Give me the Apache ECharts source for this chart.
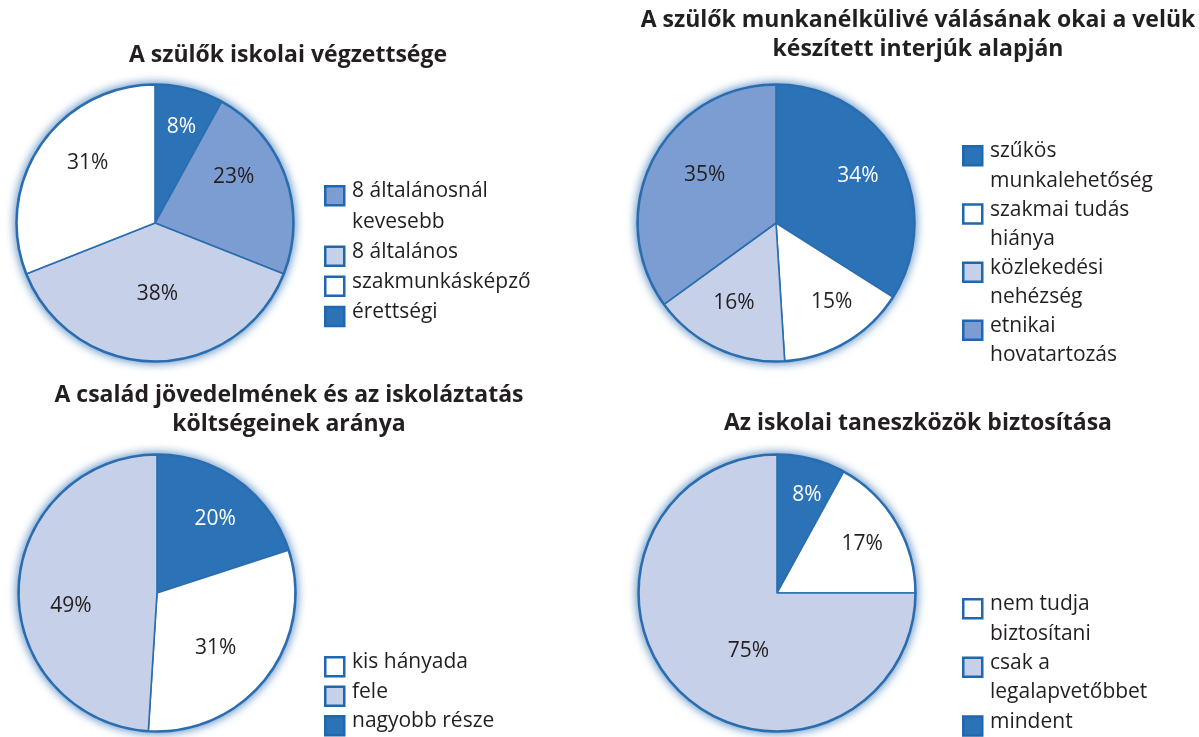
<!DOCTYPE html>
<html>
<head>
<meta charset="utf-8">
<script src="https://cdn.jsdelivr.net/npm/echarts@6/dist/echarts.min.js"></script>
<style>
  html, body { margin: 0; padding: 0; background: #fff; }
  #chart { width: 1199px; height: 737px; }
</style>
</head>
<body>
<div id="chart"></div>
<script>
// Slice colours
const DARK = '#2b73b6';
const MEDIUM = '#7c9dd1';
const LIGHT = '#c6d0e8';
const WHITE = '#ffffff';
const EDGE = '#2a6db0';
const INK = '#231f20';

// 1) A szülők iskolai végzettsége
const eduTitle = 'A szülők iskolai végzettsége';
const eduCategories = ['érettségi', '8 általánosnál kevesebb', '8 általános', 'szakmunkásképző'];
const eduValues = [8, 23, 38, 31];
const eduColors = [DARK, MEDIUM, LIGHT, WHITE];
const eduLegend = [['8 általánosnál', 'kevesebb'], ['8 általános'], ['szakmunkásképző'], ['érettségi']];
const eduLegendColors = [MEDIUM, LIGHT, WHITE, DARK];

// 2) A szülők munkanélkülivé válásának okai
const jobTitle = 'A szülők munkanélkülivé válásának okai a velük\nkészített interjúk alapján';
const jobCategories = ['szűkös munkalehetőség', 'szakmai tudás hiánya', 'közlekedési nehézség', 'etnikai hovatartozás'];
const jobValues = [34, 15, 16, 35];
const jobColors = [DARK, WHITE, LIGHT, MEDIUM];
const jobLegend = [['szűkös', 'munkalehetőség'], ['szakmai tudás', 'hiánya'], ['közlekedési', 'nehézség'], ['etnikai', 'hovatartozás']];
const jobLegendColors = [DARK, WHITE, LIGHT, MEDIUM];

// 3) A család jövedelmének és az iskoláztatás költségeinek aránya
const incTitle = 'A család jövedelmének és az iskoláztatás\nköltségeinek aránya';
const incCategories = ['nagyobb része', 'kis hányada', 'fele'];
const incValues = [20, 31, 49];
const incColors = [DARK, WHITE, LIGHT];
const incLegend = [['kis hányada'], ['fele'], ['nagyobb része']];
const incLegendColors = [WHITE, LIGHT, DARK];

// 4) Az iskolai taneszközök biztosítása
const toolTitle = 'Az iskolai taneszközök biztosítása';
const toolCategories = ['mindent', 'nem tudja biztosítani', 'csak a legalapvetőbbet'];
const toolValues = [8, 17, 75];
const toolColors = [DARK, WHITE, LIGHT];
const toolLegend = [['nem tudja', 'biztosítani'], ['csak a', 'legalapvetőbbet'], ['mindent']];
const toolLegendColors = [WHITE, LIGHT, DARK];

const FONT = '"Open Sans", "Noto Sans", sans-serif';
const R = 138;

// Panel layout: pie centre, label placement (radius fraction, turn off the bisector in degrees),
// title anchor and legend anchor.
const panels = [
  { title: eduTitle, cats: eduCategories, vals: eduValues, colors: eduColors,
    legend: eduLegend, legendColors: eduLegendColors,
    center: [155, 223],
    labelR: [0.70, 0.64, 0.49, 0.63], labelTurn: [1, -11, -2, 7.5],
    titleX: 283, titleY: 36, legendX: 324, legendY: 196, lineH: 30.2 },
  { title: jobTitle, cats: jobCategories, vals: jobValues, colors: jobColors,
    legend: jobLegend, legendColors: jobLegendColors,
    center: [776, 223],
    labelR: [0.665, 0.68, 0.63, 0.60], labelTurn: [-1.3, -4.7, 2.7, 6.9],
    titleX: 913, titleY: 1, legendX: 962, legendY: 156, lineH: 29.1 },
  { title: incTitle, cats: incCategories, vals: incValues, colors: incColors,
    legend: incLegend, legendColors: incLegendColors,
    center: [157, 593],
    labelR: [0.66, 0.56, 0.61], labelTurn: [2.3, 5.5, -10.9],
    titleX: 284, titleY: 376, legendX: 324, legendY: 667, lineH: 29.5 },
  { title: toolTitle, cats: toolCategories, vals: toolValues, colors: toolColors,
    legend: toolLegend, legendColors: toolLegendColors,
    center: [777, 593],
    labelR: [0.72, 0.69, 0.45], labelTurn: [2.7, 0.8, -19.9],
    titleX: 913, titleY: 404, legendX: 962, legendY: 609, lineH: 29.3 }
];

const series = [];
const titles = [];
const graphics = [];

panels.forEach(function (p) {
  const total = p.vals.reduce(function (a, b) { return a + b; }, 0);
  let acc = 0;
  const data = p.vals.map(function (v, i) {
    // move each inside label from its default spot (half radius on the bisector)
    const mid = (acc + v / 2) / total * Math.PI * 2;
    acc += v;
    const ang = mid + p.labelTurn[i] * Math.PI / 180;
    const rr = p.labelR[i] * R;
    const dx = rr * Math.sin(ang) - 0.5 * R * Math.sin(mid);
    const dy = -rr * Math.cos(ang) + 0.5 * R * Math.cos(mid);
    return {
      name: p.cats[i],
      value: v,
      itemStyle: { color: p.colors[i] },
      label: {
        color: p.colors[i] === DARK ? '#ffffff' : INK,
        offset: [dx, dy]
      }
    };
  });

  // soft blue halo behind the pie
  series.push({
    type: 'pie', silent: true, center: p.center, radius: [0, R + 0.5],
    startAngle: 90, z: 1,
    label: { show: false }, labelLine: { show: false },
    itemStyle: { color: EDGE, borderColor: EDGE, borderWidth: 2.5,
      shadowBlur: 10, shadowColor: 'rgba(42,109,176,0.8)' },
    data: [{ value: 1, name: '' }]
  });

  series.push({
    type: 'pie', silent: true, center: p.center, radius: [0, R],
    startAngle: 90, clockwise: true, z: 2,
    avoidLabelOverlap: false,
    label: { show: true, position: 'inside', formatter: '{c}%',
      fontFamily: FONT, fontSize: 21, fontWeight: 'normal' },
    labelLine: { show: false },
    itemStyle: { borderColor: EDGE, borderWidth: 1.6 },
    data: data
  });

  titles.push({
    text: p.title, left: p.titleX, top: p.titleY, textAlign: 'center',
    textStyle: { fontFamily: FONT, fontSize: 23, fontWeight: 'bold', color: INK, lineHeight: 29 }
  });

  // legend: boxed swatch + wrapped label
  let line = 0;
  p.legend.forEach(function (lines, i) {
    const y = p.legendY + line * p.lineH;
    graphics.push({
      type: 'rect', left: p.legendX, top: y - 11,
      shape: { width: 19, height: 19 },
      style: { fill: p.legendColors[i], stroke: '#1f67ae', lineWidth: 2.5 }
    });
    lines.forEach(function (t, k) {
      graphics.push({
        type: 'text', left: p.legendX + 28, top: y + k * p.lineH - 15,
        style: { text: t, fill: INK, font: '21px ' + FONT }
      });
    });
    line += lines.length;
  });
});

const chart = echarts.init(document.getElementById('chart'), null, { renderer: 'canvas' });
chart.setOption({
  backgroundColor: '#ffffff',
  animation: false,
  title: titles,
  series: series,
  graphic: graphics
});
</script>
</body>
</html>
